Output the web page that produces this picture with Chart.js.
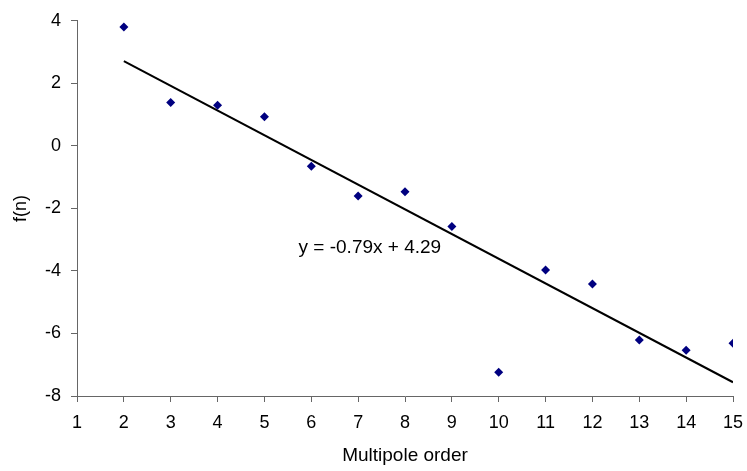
<!DOCTYPE html>
<html>
<head>
<meta charset="utf-8">
<script src="https://cdn.jsdelivr.net/npm/chart.js@4/dist/chart.umd.min.js"></script>
<style>
  html, body { margin: 0; padding: 0; background: #fff; }
  #wrap { width: 747px; height: 471px; }
</style>
</head>
<body>
<div id="wrap"><canvas id="chart"></canvas></div>
<script>
const orders = [2, 3, 4, 5, 6, 7, 8, 9, 10, 11, 12, 13, 14, 15];
const fValues = [3.8, 1.39, 1.3, 0.93, -0.65, -1.6, -1.47, -2.58, -7.24, -3.97, -4.42, -6.21, -6.54, -6.31];
const slope = -0.79;
const intercept = 4.29;
const trendX = [2, 15];
const equationText = 'y = -0.79x + 4.29';

const font = { family: 'Liberation Sans, Arial, sans-serif', size: 18 };

const equationLabel = {
  id: 'equationLabel',
  afterDatasetsDraw(chart) {
    const ctx = chart.ctx;
    const x = chart.scales.x.getPixelForValue(7.25);
    const y = chart.scales.y.getPixelForValue(-3.26);
    ctx.save();
    ctx.font = '19px ' + font.family;
    ctx.fillStyle = '#000';
    ctx.textAlign = 'center';
    ctx.textBaseline = 'middle';
    ctx.fillText(equationText, x, y);
    ctx.restore();
  }
};

new Chart(document.getElementById('chart'), {
  type: 'scatter',
  data: {
    datasets: [
      {
        label: 'f(n)',
        data: orders.map((x, i) => ({ x: x, y: fValues[i] })),
        pointStyle: 'rectRot',
        pointRadius: 4.5,
        backgroundColor: '#000080',
        borderColor: '#000080',
        borderWidth: 0,
      },
      {
        label: 'trend',
        type: 'line',
        data: trendX.map((x) => ({ x: x, y: slope * x + intercept })),
        borderColor: '#000',
        borderWidth: 2,
        pointRadius: 0,
        fill: false,
      },
    ],
  },
  options: {
    responsive: true,
    maintainAspectRatio: false,
    animation: false,
    layout: { padding: { top: 20, right: 14, left: 0, bottom: 0 } },
    plugins: {
      legend: { display: false },
      tooltip: { enabled: false },
    },
    scales: {
      x: {
        type: 'linear',
        min: 1,
        max: 15,
        afterFit: (s) => { s.height = 75; s.paddingRight = 0; s.paddingLeft = 0; },
        ticks: { stepSize: 1, color: '#000', font: font, padding: 10, maxRotation: 0 },
        grid: { drawOnChartArea: false, drawTicks: true, tickLength: 6, color: '#666' },
        border: { color: '#666', width: 1 },
        title: { display: true, text: 'Multipole order', color: '#000', font: { family: font.family, size: 19 }, padding: { top: 2 } },
      },
      y: {
        min: -8,
        max: 4,
        afterFit: (s) => { s.width = 77; },
        ticks: { stepSize: 2, color: '#000', font: font, padding: 10 },
        grid: { drawOnChartArea: false, drawTicks: true, tickLength: 6, color: '#666' },
        border: { color: '#666', width: 1 },
        title: { display: true, text: 'f(n)', color: '#000', font: { family: font.family, size: 18 }, padding: { top: 10, bottom: 0 } },
      },
    },
  },
  plugins: [equationLabel],
});
</script>
</body>
</html>
